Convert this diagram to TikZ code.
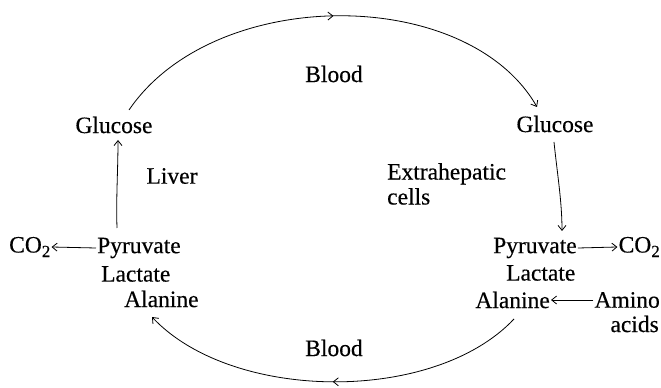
\documentclass[tikz,border=0pt]{standalone}
\usepackage{fontspec}
\setmainfont[FakeBold=0.35]{Liberation Serif}
\usetikzlibrary{arrows.meta,decorations.markings,calc}
\newcommand{\cotwo}{CO\raisebox{-4.5pt}{\fontsize{17}{17}\selectfont 2}}
\begin{document}
\begin{tikzpicture}[x=1pt,y=1pt,
  lbl/.style={inner sep=1pt,font=\fontsize{23.5}{26}\selectfont},
  con/.style={line width=0.8pt,-{Straight Barb[length=5pt,width=8pt]}},
  midtip/.style={line width=0.8pt,postaction={decorate},
    decoration={markings,mark=at position 0.5 with {\arrow{Straight Barb[length=5pt,width=8pt]}}}}]
\useasboundingbox (0,0) rectangle (661,388);
\node[lbl] (gl) at (114,263) {Glucose};
\node[lbl] (gr) at (555,264) {Glucose};
\node[lbl] (bt) at (334,314) {Blood};
\node[lbl] (bb) at (334,40) {Blood};
\node[lbl] (liver) at (172,212) {Liver};
\node[lbl,align=left,anchor=north west,inner sep=0pt] (extra) at (387,225) {Extrahepatic\\[-1pt]cells};
\node[lbl,anchor=west] (co2l) at (8,141) {\cotwo};
\node[lbl,anchor=west] (pyl) at (96,140) {Pyruvate};
\node[lbl,anchor=west] (lal) at (100,114) {Lactate};
\node[lbl,anchor=west] (all) at (123,89) {Alanine};
\node[lbl,anchor=west] (pyr) at (492,140) {Pyruvate};
\node[lbl,anchor=east] (co2r) at (661,141) {\cotwo};
\node[lbl,anchor=west] (lar) at (505,115) {Lactate};
\node[lbl,anchor=east] (alr) at (551,88) {Alanine};
\node[lbl,anchor=east] (amino) at (661,88) {Amino};
\node[lbl,anchor=east] (acids) at (660,64) {acids};
% top arc
\draw[midtip,con] ([shift={(15,15)}]gl.center) .. controls +(85,125) and +(-70,122) .. ([shift={(-18,17)}]gr.center);
% bottom arc
\draw[midtip,con] ([shift={(-37,-19)}]alr.east) .. controls +(-80,-85) and +(80,-85) .. ([shift={(29,-18)}]all.west);
% verticals
\draw[con] ([shift={(21,20)}]pyl.west) .. controls +(-1,30) and +(0,-30) .. ([shift={(4,-15)}]gl.center);
\draw[con] ([shift={(-1,-18)}]gr.center) .. controls +(3,-30) and +(0,30) .. ([shift={(70,17)}]pyr.west);
% horizontals
\draw[con] (pyl.west) -- (co2l.east);
\draw[con] (pyr.east) -- (co2r.west);
\draw[con] (amino.west) -- (alr.east);
\end{tikzpicture}
\end{document}
